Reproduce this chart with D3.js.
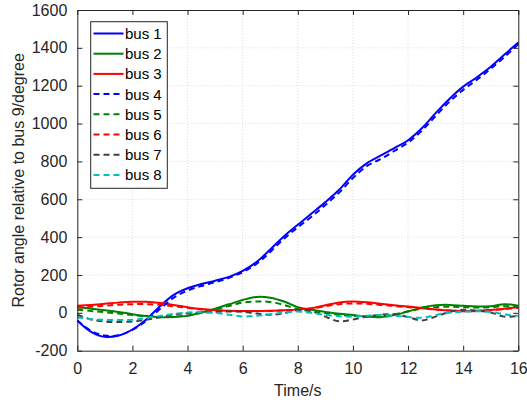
<!DOCTYPE html>
<html>
<head>
<meta charset="utf-8">
<script src="https://cdn.jsdelivr.net/npm/d3@7"></script>
<style>
  body { margin: 0; background: #fff; }
  svg { display: block; font-family: "Liberation Sans", Arial, sans-serif; }
</style>
</head>
<body>
<svg id="chart" width="527" height="404"></svg>
<script>
'use strict';

// time samples, seconds
var times = d3.range(0, 16.01, 0.5);

var bus1 = [-40, -100, -127, -120, -88, -35, 35, 95, 130, 152, 170, 190, 222, 268, 335, 405,
  465, 525, 585, 650, 730, 790, 830, 870, 912, 975, 1055, 1130, 1195, 1245, 1300, 1365, 1428];
var bus2 = [30, 22, 14, 5, -7, -17, -23, -22, -16, 2, 22, 45, 68, 84, 80, 60,
  30, 16, 5, -5, -12, -20, -23, -12, 7, 28, 40, 42, 37, 33, 35, 46, 38];
var bus3 = [37, 42, 48, 54, 58, 58, 52, 42, 30, 20, 14, 11, 10, 10, 11, 14,
  17, 25, 40, 55, 60, 56, 48, 40, 33, 25, 18, 12, 9, 10, 15, 22, 30];
var bus4 = [-40, -95, -120, -118, -90, -42, 20, 80, 118, 142, 162, 185, 215, 258, 322, 392,
  452, 508, 570, 635, 712, 775, 812, 855, 900, 962, 1040, 1115, 1178, 1232, 1290, 1352, 1420];
var bus5 = [16, 10, 3, -4, -11, -18, -22, -20, -14, 0, 18, 36, 54, 60, 57, 42,
  20, 8, -2, -10, -16, -18, -18, -8, 8, 22, 30, 32, 30, 28, 30, 35, 32];
var bus6 = [28, 32, 38, 43, 46, 46, 42, 35, 26, 18, 13, 10, 9, 9, 10, 13,
  17, 23, 35, 46, 50, 48, 42, 36, 30, 24, 18, 13, 10, 11, 15, 20, 26];
var bus7 = [-10, -35, -46, -48, -46, -36, -23, -10, -2, 2, 5, 7, 6, -4, -10, -2,
  14, 10, -20, -45, -35, -20, -10, -8, -22, -40, -20, 5, 16, 12, 2, -20, -16];
var bus8 = [-23, -33, -37, -38, -37, -28, -16, -6, 2, 3, 0, -10, -19, -15, -8, 2,
  7, 0, -11, -18, -20, -15, -12, -15, -22, -26, -12, 0, 6, 8, 5, -8, -16];

var seriesNames = ['bus 1', 'bus 2', 'bus 3', 'bus 4', 'bus 5', 'bus 6', 'bus 7', 'bus 8'];
var seriesValues = [bus1, bus2, bus3, bus4, bus5, bus6, bus7, bus8];
var xTicks = d3.range(0, 17, 2);
var yTicks = d3.range(-200, 1601, 200);

var colors = ['#0000ff', '#008000', '#ff0000', '#0000ff', '#008000', '#ff0000', '#404040', '#00bfbf'];
var dashed = [false, false, false, true, true, true, true, true];

var axisColor = '#262626';
var svg = d3.select('#chart');
var plotLeft = 77.3, plotRight = 518.3, plotTop = 10, plotBottom = 350.7;

var x = d3.scaleLinear().domain([0, 16]).range([plotLeft, plotRight]);
var y = d3.scaleLinear().domain([-200, 1600]).range([plotBottom, plotTop]);

// plain labels, hyphen minus, no thousands separator
var plainFormat = function(d) { return String(d); };

// grid
var grid = svg.append('g')
  .attr('stroke', '#dcdcdc')
  .attr('stroke-width', 1)
  .attr('stroke-dasharray', '1,2');
grid.selectAll('.gx')
  .data(xTicks.slice(1, -1))
  .enter().append('line')
  .attr('x1', function(d) { return x(d); })
  .attr('x2', function(d) { return x(d); })
  .attr('y1', plotTop)
  .attr('y2', plotBottom);
grid.selectAll('.gy')
  .data(yTicks.slice(1, -1))
  .enter().append('line')
  .attr('x1', plotLeft)
  .attr('x2', plotRight)
  .attr('y1', function(d) { return y(d); })
  .attr('y2', function(d) { return y(d); });

// lines
var line = d3.line()
  .x(function(d, i) { return x(times[i]); })
  .y(function(d) { return y(d); })
  .curve(d3.curveCatmullRom.alpha(0.5));

var plot = svg.append('g');
seriesValues.forEach(function(vals, i) {
  plot.append('path')
    .attr('d', line(vals))
    .attr('fill', 'none')
    .attr('stroke', colors[i])
    .attr('stroke-width', 2)
    .attr('stroke-dasharray', dashed[i] ? '6,4' : null);
});

// axes, ticks inward like matlab
function styleAxis(g) {
  g.selectAll('path').attr('stroke', axisColor);
  g.selectAll('line').attr('stroke', axisColor);
  g.selectAll('text')
    .attr('fill', axisColor)
    .style('font-size', '16px')
    .style('font-family', '"Liberation Sans", Arial, sans-serif');
}

svg.append('g')
  .attr('transform', 'translate(0,' + plotBottom + ')')
  .call(d3.axisBottom(x).tickValues(xTicks).tickFormat(plainFormat)
    .tickSizeInner(-5).tickSizeOuter(0).tickPadding(12))
  .call(styleAxis);
svg.append('g')
  .attr('transform', 'translate(0,' + plotTop + ')')
  .call(d3.axisTop(x).tickValues(xTicks).tickSizeInner(-5).tickSizeOuter(0).tickFormat(''))
  .call(styleAxis);
svg.append('g')
  .attr('transform', 'translate(' + plotLeft + ',0)')
  .call(d3.axisLeft(y).tickValues(yTicks).tickFormat(plainFormat)
    .tickSizeInner(-5).tickSizeOuter(0).tickPadding(10))
  .call(styleAxis);
svg.append('g')
  .attr('transform', 'translate(' + plotRight + ',0)')
  .call(d3.axisRight(y).tickValues(yTicks).tickSizeInner(-5).tickSizeOuter(0).tickFormat(''))
  .call(styleAxis);

// axis labels
svg.append('text')
  .attr('x', (plotLeft + plotRight) / 2)
  .attr('y', 396)
  .attr('text-anchor', 'middle')
  .attr('fill', axisColor)
  .style('font-size', '16px')
  .text('Time/s');
svg.append('text')
  .attr('transform', 'translate(24,' + ((plotTop + plotBottom) / 2) + ') rotate(-90)')
  .attr('text-anchor', 'middle')
  .attr('fill', axisColor)
  .style('font-size', '16px')
  .text('Rotor angle relative to bus 9/degree');

// legend
var legend = svg.append('g');
legend.append('rect')
  .attr('x', 90.7)
  .attr('y', 21.7)
  .attr('width', 76.6)
  .attr('height', 166.6)
  .attr('fill', '#fff')
  .attr('stroke', axisColor)
  .attr('stroke-width', 1);
seriesNames.forEach(function(name, i) {
  var ly = 33.5 + i * 20.2;
  legend.append('line')
    .attr('x1', 93.5)
    .attr('x2', 123.5)
    .attr('y1', ly)
    .attr('y2', ly)
    .attr('stroke', colors[i])
    .attr('stroke-width', 2)
    .attr('stroke-dasharray', dashed[i] ? '6,4' : null);
  legend.append('text')
    .attr('x', 125)
    .attr('y', ly + 5.5)
    .attr('fill', '#000')
    .style('font-size', '15px')
    .text(name);
});
</script>
</body>
</html>
